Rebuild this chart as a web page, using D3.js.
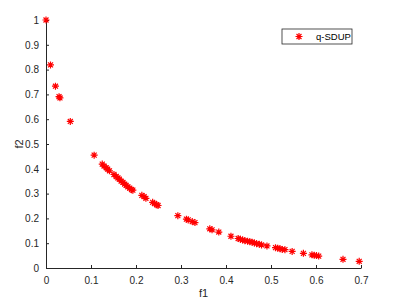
<!DOCTYPE html>
<meta charset="utf-8">
<style>
	body {
		margin: 0;
		padding: 0;
		background: #ffffff;
	}

	.axis text {
		fill: #262626;
		font: 10px 'Liberation Sans', Arial, sans-serif;
	}

	.axis path,
	.axis line {
		fill: none;
		stroke: #262626;
		stroke-width: 1px;
	}

	.label {
		fill: #262626;
		font: 11px 'Liberation Sans', Arial, sans-serif;
	}

	.dot {
		fill: none;
		stroke: #ff0000;
		stroke-width: 1.2px;
	}

	.legend text {
		fill: #000000;
		font: 9.5px 'Liberation Sans', Arial, sans-serif;
	}
</style>
<body>
	<svg class="chart"></svg>
</body>

<script src="https://d3js.org/d3.v7.min.js"></script>
<script>

// pareto front points
var f1 = [0.000, 0.010, 0.021, 0.029, 0.031, 0.054,
	0.107, 0.125, 0.129, 0.134, 0.137, 0.141, 0.151, 0.156, 0.160, 0.163,
	0.167, 0.171, 0.175, 0.178, 0.182, 0.186, 0.190, 0.193,
	0.213, 0.218, 0.222, 0.237, 0.241, 0.246, 0.249,
	0.293, 0.312, 0.316, 0.325, 0.331,
	0.364, 0.369, 0.384, 0.411, 0.427, 0.432, 0.437, 0.442, 0.448, 0.453,
	0.458, 0.463, 0.468, 0.474, 0.479, 0.491,
	0.510, 0.515, 0.520, 0.525, 0.531, 0.547, 0.572,
	0.591, 0.596, 0.601, 0.606, 0.660, 0.696];

var f2 = [1.000, 0.819, 0.733, 0.691, 0.686, 0.591,
	0.455, 0.419, 0.411, 0.404, 0.399, 0.392, 0.377, 0.369, 0.363, 0.358,
	0.350, 0.345, 0.338, 0.333, 0.327, 0.322, 0.316, 0.314,
	0.293, 0.288, 0.281, 0.265, 0.260, 0.255, 0.252,
	0.211, 0.197, 0.194, 0.187, 0.183,
	0.158, 0.154, 0.145, 0.128, 0.119, 0.116, 0.113, 0.110, 0.108, 0.106,
	0.104, 0.101, 0.098, 0.096, 0.093, 0.089,
	0.082, 0.080, 0.078, 0.075, 0.074, 0.067, 0.059,
	0.053, 0.051, 0.050, 0.048, 0.035, 0.027];

var xTicks = [0, 0.1, 0.2, 0.3, 0.4, 0.5, 0.6, 0.7];
var yTicks = [0, 0.1, 0.2, 0.3, 0.4, 0.5, 0.6, 0.7, 0.8, 0.9, 1];
var seriesName = "q-SDUP";

var margin = {top: 20, right: 37, bottom: 34, left: 46};
var width = 398 - margin.left - margin.right;
var height = 302 - margin.top - margin.bottom;

var x = d3.scaleLinear()
	.domain([0, 0.7])
	.range([0, width]);

var y = d3.scaleLinear()
	.domain([0, 1])
	.range([height, 0]);

// matlab style '*' marker: a plus and a cross
var star = {
	draw: function (context, size) {
		var r = Math.sqrt(size) / 2;
		var k = r * 0.7071;
		context.moveTo(-r, 0); context.lineTo(r, 0);
		context.moveTo(0, -r); context.lineTo(0, r);
		context.moveTo(-k, -k); context.lineTo(k, k);
		context.moveTo(-k, k); context.lineTo(k, -k);
	}
};
var marker = d3.symbol().type(star).size(49);

var svg = d3.select(".chart")
	.attr("width", 398)
	.attr("height", 302);

var chart = svg.append("g")
	.attr("transform", "translate(" + margin.left + "," + margin.top + ")");

var xAxis = d3.axisBottom(x)
	.tickValues(xTicks)
	.tickFormat(d3.format("~g"))
	.tickSizeInner(-3)
	.tickSizeOuter(0)
	.tickPadding(9);

var yAxis = d3.axisLeft(y)
	.tickValues(yTicks)
	.tickFormat(d3.format("~g"))
	.tickSizeInner(-3)
	.tickSizeOuter(0)
	.tickPadding(7);

chart.append("g")
	.attr("class", "axis")
	.attr("transform", "translate(0," + height + ")")
	.call(xAxis);

chart.append("g")
	.attr("class", "axis")
	.call(yAxis);

chart.append("text")
	.attr("class", "label")
	.attr("x", width / 2)
	.attr("y", height + 29)
	.attr("text-anchor", "middle")
	.text("f1");

chart.append("text")
	.attr("class", "label")
	.attr("transform", "translate(-23," + height / 2 + ") rotate(-90)")
	.attr("text-anchor", "middle")
	.text("f2");

var points = f1.map(function (d, i) { return {f1: d, f2: f2[i]}; });

chart.selectAll(".dot")
	.data(points)
  .enter().append("path")
	.attr("class", "dot")
	.attr("d", marker)
	.attr("transform", function (d) { return "translate(" + x(d.f1) + "," + y(d.f2) + ")"; });

// legend
var legend = svg.append("g")
	.attr("class", "legend")
	.attr("transform", "translate(282,29)");

legend.append("rect")
	.attr("width", 70)
	.attr("height", 15)
	.attr("fill", "#ffffff")
	.attr("stroke", "#262626")
	.attr("stroke-width", 0.8);

legend.append("path")
	.attr("class", "dot")
	.attr("d", marker)
	.attr("transform", "translate(17,7.5)");

legend.append("text")
	.attr("x", 34)
	.attr("y", 11)
	.text(seriesName);

</script>
